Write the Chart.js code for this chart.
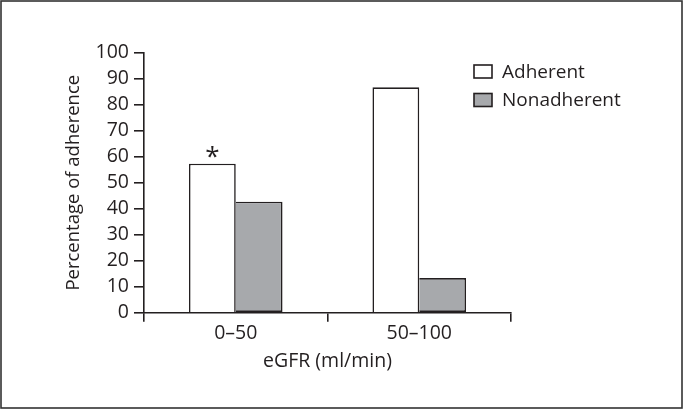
<!DOCTYPE html>
<html>
<head>
<meta charset="utf-8">
<script src="https://cdn.jsdelivr.net/npm/chart.js@4"></script>
<style>
  body { margin: 0; background: #fff; }
  #wrap { width: 687px; height: 411px; }
</style>
</head>
<body>
<div id="wrap"><canvas id="myChart" width="687" height="411"></canvas></div>
<script>
// dati
var categorie = ['0\u201350', '50\u2013100'];
var aderenti = [57.3, 86.7];
var nonAderenti = [42.7, 13.3];
var asterischi = ['*', ''];
var tickY = [0, 10, 20, 30, 40, 50, 60, 70, 80, 90, 100];

var nero = '#231f20';
var grigio = '#a7a9ac';
var font = "'Open Sans', 'Noto Sans', sans-serif";

// cornice intorno alla figura
var cornice = {
  id: 'cornice',
  beforeDraw: function(chart) {
    var ctx = chart.ctx;
    ctx.save();
    ctx.fillStyle = '#fff';
    ctx.fillRect(0, 0, chart.width, chart.height);
    ctx.strokeStyle = '#333';
    ctx.lineWidth = 1.6;
    ctx.strokeRect(1, 1, 681, 407);
    ctx.restore();
  }
};

// asterisco sopra la barra
var stelline = {
  id: 'stelline',
  afterDatasetsDraw: function(chart) {
    var ctx = chart.ctx;
    var meta = chart.getDatasetMeta(0);
    ctx.save();
    ctx.fillStyle = nero;
    ctx.font = '26px ' + font;
    ctx.textAlign = 'center';
    ctx.textBaseline = 'alphabetic';
    meta.data.forEach(function(bar, i) {
      if (asterischi[i]) {
        ctx.fillText(asterischi[i], bar.x, bar.y + 1);
      }
    });
    ctx.restore();
  }
};

// legenda a mano
var legenda = {
  id: 'legenda',
  afterDraw: function(chart) {
    var ctx = chart.ctx;
    ctx.save();
    ctx.font = '19px ' + font;
    ctx.textBaseline = 'middle';
    chart.data.datasets.forEach(function(ds, i) {
      var y = 71.5 + i * 28.5;
      ctx.fillStyle = ds.backgroundColor;
      ctx.fillRect(474, y - 6.5, 18, 13);
      ctx.strokeStyle = nero;
      ctx.lineWidth = 1.6;
      ctx.strokeRect(474, y - 6.5, 18, 13);
      ctx.fillStyle = nero;
      ctx.fillText(ds.label, 502, y + 1);
    });
    ctx.restore();
  }
};

var ctx = document.getElementById('myChart');
var myChart = new Chart(ctx, {
  type: 'bar',
  data: {
    labels: categorie,
    datasets: [{
      label: 'Adherent',
      data: aderenti,
      backgroundColor: '#ffffff',
      borderColor: nero,
      borderWidth: 1.6,
      categoryPercentage: 0.51,
      barPercentage: 1
    }, {
      label: 'Nonadherent',
      data: nonAderenti,
      backgroundColor: grigio,
      borderColor: nero,
      borderWidth: 1.6,
      borderSkipped: 'left',
      categoryPercentage: 0.51,
      barPercentage: 1
    }]
  },
  options: {
    responsive: false,
    animation: false,
    layout: { padding: { top: 52.7, right: 176, bottom: 0, left: 0 } },
    plugins: {
      legend: { display: false },
      tooltip: { enabled: false }
    },
    scales: {
      x: {
        afterFit: function(scale) { scale.height = 98.3; },
        grid: { drawOnChartArea: false, drawTicks: true, tickLength: 9, color: nero, lineWidth: 1.6, offset: true },
        border: { color: nero, width: 1.6 },
        ticks: { color: nero, font: { family: font, size: 19.5 }, padding: 0 },
        title: { display: true, text: 'eGFR (ml/min)', color: nero, font: { family: font, size: 19.5 }, padding: { top: 0, bottom: 38 } }
      },
      y: {
        min: 0,
        max: 100,
        afterFit: function(scale) { scale.width = 144; },
        afterBuildTicks: function(scale) {
          scale.ticks = tickY.map(function(v) { return { value: v }; });
        },
        grid: { drawOnChartArea: false, drawTicks: true, tickLength: 10, color: nero, lineWidth: 1.6 },
        border: { color: nero, width: 1.6 },
        ticks: { color: nero, font: { family: font, size: 19.5 }, padding: 5, autoSkip: false },
        title: { display: true, text: 'Percentage of adherence', color: nero, font: { family: font, size: 18.5 }, padding: { top: 63, bottom: 0 } }
      }
    }
  },
  plugins: [cornice, stelline, legenda]
});
</script>
</body>
</html>
